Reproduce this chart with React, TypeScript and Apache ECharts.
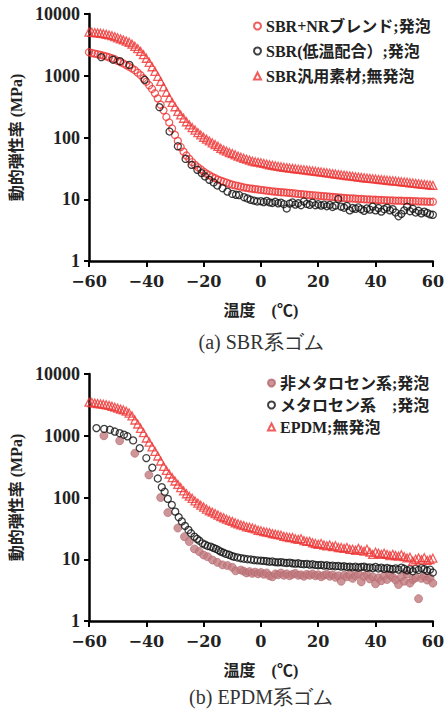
import React, { useEffect, useRef } from "react";
import * as echarts from "echarts";

// ---------- data ----------
const temps = [
  -60, -59, -58, -57, -56, -55, -54, -53, -52, -51,
  -50, -49, -48, -47, -46, -45, -44, -43, -42, -41,
  -40, -39, -38, -37, -36, -35, -34, -33, -32, -31,
  -30, -29, -28, -27, -26, -25, -24, -23, -22, -21,
  -20, -19, -18, -17, -16, -15, -14, -13, -12, -11,
  -10, -9, -8, -7, -6, -5, -4, -3, -2, -1,
  0, 1, 2, 3, 4, 5, 6, 7, 8, 9,
  10, 11, 12, 13, 14, 15, 16, 17, 18, 19,
  20, 21, 22, 23, 24, 25, 26, 27, 28, 29,
  30, 31, 32, 33, 34, 35, 36, 37, 38, 39,
  40, 41, 42, 43, 44, 45, 46, 47, 48, 49,
  50, 51, 52, 53, 54, 55, 56, 57, 58, 59, 60,
];

// (a) SBR+NRブレンド;発泡
const sbrNrFoam = [
  2400, 2330, 2280, 2230, 2180, 2120, 2060, 1990, 1920, 1850,
  1740, 1660, 1580, 1490, 1400, 1320, 1230, 1120, 1020, 910,
  800, 700, 610, 520, 430, 340, 275, 215, 175, 140,
  110, 88, 70, 59, 51, 45, 40, 36, 33, 30.5,
  28, 26, 24.5, 23, 22, 20.8, 20, 19.2, 18.5, 17.8,
  17.2, 16.8, 16.4, 16, 15.6, 15.3, 15, 14.8, 14.6, 14.4,
  14.2, 14, 13.8, 13.6, 13.4, 13.3, 13.1, 13, 12.9, 12.8,
  12.7, 12.5, 12.4, 12.2, 12.1, 12, 11.8, 11.7, 11.6, 11.5,
  11.4, 11.3, 11.2, 11.1, 11, 10.9, 10.8, 10.7, 10.6, 10.5,
  10.4, 10.35, 10.3, 10.2, 10.15, 10.1, 10, 9.95, 9.9, 9.85,
  9.8, 9.75, 9.7, 9.65, 9.6, 9.6, 9.55, 9.5, 9.5, 9.45,
  9.4, 9.4, 9.35, 9.3, 9.3, 9.25, 9.2, 9.2, 9.15, 9.1, 9.1,
];

// (a) SBR汎用素材;無発泡
const sbrSolid = [
  5100, 5050, 5000, 4950, 4880, 4800, 4700, 4580, 4450, 4300,
  4120, 3950, 3800, 3650, 3480, 3250, 3000, 2750, 2480, 2200,
  1920, 1650, 1400, 1180, 980, 810, 660, 540, 440, 370,
  315, 265, 232, 205, 180, 160, 145, 132, 120, 110,
  101, 94, 88, 82, 77, 72, 67, 63, 60, 57,
  55, 52.5, 50, 48, 46, 44.5, 43, 41.5, 40.5, 39.8,
  39, 38, 37, 36.2, 35.5, 34.8, 34.2, 33.6, 33, 32.5,
  32, 31.6, 31.2, 30.8, 30.4, 30, 29.6, 29.2, 28.8, 28.4,
  28, 27.6, 27.2, 26.8, 26.4, 26, 25.6, 25.2, 24.9, 24.6,
  24.2, 23.9, 23.6, 23.2, 22.9, 22.6, 22.3, 22, 21.8, 21.5,
  21.3, 21, 20.8, 20.6, 20.3, 20.1, 19.9, 19.7, 19.5, 19.2,
  19, 18.8, 18.5, 18.3, 18.1, 17.8, 17.6, 17.4, 17.2, 17, 16.8,
];

// (a) SBR(低温配合);発泡
const sbrLowTemps = [
  -55.7, -51.6, -49.2, -45.9, -40.6, -35.4, -31.9, -29, -26.3, -24.2,
  -22.2, -20.7, -19.5, -18, -16.5, -15.2, -13.4, -11.7, -10, -8.7,
  -7.6, -5.9, -4.7, -3.6, -2.4, -1.3,
  0, 1, 2, 3, 4, 5, 6, 7, 8, 9,
  10, 11, 12, 13, 14, 15, 16, 17, 18, 19,
  20, 21, 22, 23, 24, 25, 26, 27, 28, 29,
  30, 31, 32, 33, 34, 35, 36, 37, 38, 39,
  40, 41, 42, 43, 44, 45, 46, 47, 48, 49,
  50, 51, 52, 53, 54, 55, 56, 57, 58, 59, 60,
];
const sbrLowFoam = [
  2000, 1820, 1720, 1500, 860, 310, 125, 72, 45, 36,
  30, 26.5, 23.4, 20.6, 18.7, 16.7, 15.1, 13.3, 12.2, 11.8,
  11.7, 10.8, 10.3, 9.8, 9.5, 9.2,
  9.3, 9.0, 9.4, 8.9, 8.7, 9.1, 8.6, 8.8, 8.3, 7.1,
  8.5, 8.9, 8.2, 8.6, 8.0, 9.2, 8.4, 8.1, 8.8, 8.0,
  8.3, 7.9, 8.2, 7.7, 8.1, 7.5, 7.9, 10.1, 7.6, 7.3,
  7.8, 6.6, 7.2, 7.0, 7.4, 6.9, 6.5, 7.1, 6.8, 7.6,
  6.6, 7.2, 6.3, 6.9, 7.3, 6.6, 6.9, 6.1, 5.3, 5.8,
  6.6, 7.6, 6.4, 7.0, 6.1, 6.5, 5.9, 6.3, 6.0, 5.7, 5.6,
];

// (b) EPDM;無発泡
const epdmSolid = [
  3500, 3450, 3380, 3330, 3280, 3230, 3170, 3100, 3000, 2900,
  2800, 2700, 2620, 2500, 2330, 2100, 1800, 1550, 1320, 1120,
  920, 790, 660, 560, 470, 390, 320, 275, 240, 210,
  185, 163, 145, 128, 115, 105, 97, 88, 81, 75,
  70, 65, 61, 58, 55, 52, 49, 47, 44.5, 42.5,
  41, 39, 37.5, 36, 35, 33.5, 33, 32, 31, 29.5,
  29, 28, 27.5, 27, 26, 25.5, 25, 24.5, 23.5, 23,
  22.5, 22.5, 21.5, 21, 21.5, 20, 19.5, 19.5, 18.5, 18,
  17.5, 18, 17, 16.5, 17, 16, 16.5, 15.5, 15.5, 15,
  15.5, 14.5, 14.5, 14, 15, 14, 13.5, 14.5, 13, 12,
  13, 12.5, 12, 12.5, 12, 11.5, 12, 11.5, 11.2, 11.8,
  11, 10.5, 10.8, 9.3, 10, 10.5, 9.8, 10.6, 9.6, 9.9, 10.4,
];

// (b) メタロセン系;発泡
const metaTemps = [
  -57.4, -54.7, -52.7, -51, -49.3, -47.8, -46.6, -44.6, -42.3, -40,
  -37.9, -36, -34.6, -33.6, -32.5, -31.1, -29.9, -28.7, -27.6, -26.5,
  -25.3, -24.4, -23.2, -22.3, -21.5, -20.4, -19.5, -18.6, -17.5, -16.6,
  -15.7, -14.8, -14, -13.1, -12.2, -11.1, -10.2, -9.4, -8.2, -7,
  -5.9, -4.7, -3.5, -2.4, -1.2,
  0, 1, 2, 3, 4, 5, 6, 7, 8, 9,
  10, 11, 12, 13, 14, 15, 16, 17, 18, 19,
  20, 21, 22, 23, 24, 25, 26, 27, 28, 29,
  30, 31, 32, 33, 34, 35, 36, 37, 38, 39,
  40, 41, 42, 43, 44, 45, 46, 47, 48, 49,
  50, 51, 52, 53, 54, 55, 56, 57, 58, 59, 60,
];
const metaFoam = [
  1330, 1290, 1250, 1170, 1100, 1040, 980, 840, 630, 435,
  305, 203, 147, 124, 95, 76, 59, 48, 41, 34.7,
  29.8, 26.3, 23.2, 21.4, 20, 18.1, 17.2, 16.4, 16, 15.3,
  14.7, 14, 13.3, 12.8, 12.2, 11.8, 11.3, 11, 10.7, 10.4,
  10.2, 10, 9.9, 9.7, 9.6,
  9.5, 9.4, 9.3, 9.1, 9.2, 9.0, 8.9, 9.0, 8.8, 8.7,
  8.8, 8.6, 8.5, 8.6, 8.4, 8.3, 8.4, 8.2, 8.3, 8.1,
  8.0, 8.1, 7.9, 8.0, 7.8, 7.9, 7.7, 7.8, 7.6, 7.7,
  7.5, 7.6, 7.4, 7.6, 7.3, 7.5, 7.6, 7.3, 7.4, 7.2,
  7.5, 7.1, 7.3, 7.0, 7.2, 7.0, 6.9, 7.1, 6.8, 7.3,
  7.0, 6.6, 6.9, 6.4, 7.0, 6.7, 7.2, 6.9, 6.5, 6.8, 6.1,
];

// (b) 非メタロセン系;発泡
const nonMetaTemps = [
  -54.8, -49.3, -44, -39.1, -35, -32.5, -29, -26.7, -25, -23.2,
  -21.5, -20, -18.6, -16.9, -15.2, -13.4, -11.7, -10, -8.8, -7,
  -6, -5, -4, -3, -2, -1,
  0, 1, 2, 3, 4, 5, 6, 7, 8, 9,
  10, 11, 12, 13, 14, 15, 16, 17, 18, 19,
  20, 21, 22, 23, 24, 25, 26, 27, 28, 29,
  30, 31, 32, 33, 34, 35, 36, 37, 38, 39,
  40, 41, 42, 43, 44, 45, 46, 47, 48, 49,
  50, 51, 52, 53, 54, 55, 56, 57, 58, 59, 60,
];
const nonMetaFoam = [
  1000, 830, 520, 232, 100, 57, 32, 23.2, 19.3, 14.7,
  13.3, 11.7, 11, 9.7, 8.9, 8.1, 7.9, 7.4, 6.5, 6.7,
  6.4, 6.0, 6.3, 5.9, 6.2, 5.8,
  6.1, 5.7, 6.0, 5.4, 5.2, 5.8, 5.6, 6.0, 5.5, 5.8,
  5.4, 5.7, 5.9, 5.5, 5.6, 5.3, 5.7, 5.5, 5.8, 5.4,
  5.6, 5.2, 5.5, 5.7, 5.3, 5.6, 5.1, 5.4, 4.4, 5.5,
  5.2, 5.6, 4.9, 5.4, 5.8, 4.3, 5.3, 5.6, 4.8, 5.2,
  4.0, 5.0, 4.5, 5.4, 4.7, 5.6, 5.1, 4.6, 3.9, 5.2,
  4.4, 5.8, 4.1, 4.7, 5.0, 2.3, 4.9, 5.3, 4.6, 5.0, 4.1,
];

const yTicks = [1, 10, 100, 1000, 10000];

const seriesNames = {
  sbrNr: "SBR+NRブレンド;発泡",
  sbrLow: "SBR(低温配合）;発泡",
  sbrSolid: "SBR汎用素材;無発泡",
  nonMeta: "非メタロセン系;発泡",
  meta: "メタロセン系　;発泡",
  epdm: "EPDM;無発泡",
};

const captions = ["(a) SBR系ゴム", "(b) EPDM系ゴム"];
const xName = "温度　(℃)";
const yName = "動的弾性率 (MPa)";

// ---------- styles ----------
const RED = "#ee3535";
const BLACK = "#111111";
const ROSE = "#c27b80";
const TXT = "#222222";
const FONT = "'Times New Roman', 'Noto Sans CJK JP'";
const XNUMFONT = "DejaVu Serif";
const YNUMFONT = "Times New Roman";

function zip(xs: number[], ys: number[]) {
  return xs.map((x, i) => [x, ys[i]]);
}

export default function App() {
  const ref = useRef<HTMLDivElement>(null);

  useEffect(() => {
    if (!ref.current) return;
    const chart = echarts.init(ref.current, undefined, { renderer: "svg" });

    const grids = [
      { left: 89, top: 14, width: 346, height: 247 },
      { left: 89, top: 374, width: 346, height: 247 },
    ];

    const axisLineStyle = { color: "#000", width: 2.5 };

    const xAxes = grids.map((_, i) => ({
      type: "value",
      gridIndex: i,
      min: -60,
      max: 60,
      interval: 20,
      name: xName,
      nameLocation: "middle",
      nameGap: 41,
      nameTextStyle: { fontSize: 16, fontWeight: "bold", color: TXT, fontFamily: FONT },
      axisLine: { show: true, onZero: false, lineStyle: axisLineStyle },
      axisTick: { show: true, inside: false, length: 6, lineStyle: { color: "#000", width: 2 } },
      axisLabel: {
        margin: 12,
        fontSize: 16,
        fontWeight: "bold",
        color: TXT,
        fontFamily: XNUMFONT,
        formatter: (v: number) => String(v).replace("-", "\u2212"),
      },
      splitLine: { show: false },
    }));

    const yAxes = grids.map((_, i) => ({
      type: "log",
      logBase: 10,
      gridIndex: i,
      min: yTicks[0],
      max: yTicks[yTicks.length - 1],
      name: yName,
      nameLocation: "middle",
      nameGap: 60,
      nameRotate: 90,
      nameTextStyle: { fontSize: 16, fontWeight: "bold", color: TXT, fontFamily: FONT },
      axisLine: { show: true, onZero: false, lineStyle: axisLineStyle },
      axisTick: { show: true, inside: false, length: 5, lineStyle: { color: "#000", width: 2 } },
      axisLabel: {
        margin: 9,
        fontSize: 18,
        fontWeight: "bold",
        color: TXT,
        fontFamily: YNUMFONT,
        formatter: (v: number) => String(Math.round(v)),
      },
      minorTick: { show: false },
      splitLine: { show: false },
    }));

    const hollow = (color: string) => ({
      color: "rgba(255,255,255,0)",
      borderColor: color,
      borderWidth: 1.3,
    });

    const series = [
      {
        name: seriesNames.sbrNr,
        type: "scatter",
        xAxisIndex: 0,
        yAxisIndex: 0,
        symbol: "circle",
        symbolSize: 7,
        itemStyle: hollow(RED),
        data: zip(temps, sbrNrFoam),
      },
      {
        name: seriesNames.sbrLow,
        type: "scatter",
        xAxisIndex: 0,
        yAxisIndex: 0,
        symbol: "circle",
        symbolSize: 7,
        itemStyle: hollow(BLACK),
        data: zip(sbrLowTemps, sbrLowFoam),
      },
      {
        name: seriesNames.sbrSolid,
        type: "scatter",
        xAxisIndex: 0,
        yAxisIndex: 0,
        symbol: "triangle",
        symbolSize: 8,
        itemStyle: hollow(RED),
        data: zip(temps, sbrSolid),
      },
      {
        name: seriesNames.nonMeta,
        type: "scatter",
        xAxisIndex: 1,
        yAxisIndex: 1,
        symbol: "circle",
        symbolSize: 8,
        itemStyle: { color: ROSE, borderColor: "#b4686d", borderWidth: 0.8 },
        data: zip(nonMetaTemps, nonMetaFoam),
      },
      {
        name: seriesNames.meta,
        type: "scatter",
        xAxisIndex: 1,
        yAxisIndex: 1,
        symbol: "circle",
        symbolSize: 7,
        itemStyle: hollow(BLACK),
        data: zip(metaTemps, metaFoam),
      },
      {
        name: seriesNames.epdm,
        type: "scatter",
        xAxisIndex: 1,
        yAxisIndex: 1,
        symbol: "triangle",
        symbolSize: 8,
        itemStyle: hollow(RED),
        data: zip(temps, epdmSolid),
      },
    ];

    const legendText = { fontSize: 16, fontWeight: "bold", color: TXT, fontFamily: FONT };

    chart.setOption({
      animation: false,
      backgroundColor: "#ffffff",
      grid: grids,
      xAxis: xAxes,
      yAxis: yAxes,
      legend: [
        {
          orient: "vertical",
          left: 253,
          top: 18,
          itemWidth: 7,
          itemHeight: 7,
          itemGap: 9,
          padding: 0,
          data: [seriesNames.sbrNr, seriesNames.sbrLow, seriesNames.sbrSolid],
          textStyle: legendText,
        },
        {
          orient: "vertical",
          left: 267,
          top: 375,
          itemWidth: 7,
          itemHeight: 7,
          itemGap: 6,
          padding: 0,
          data: [seriesNames.nonMeta, seriesNames.meta, seriesNames.epdm],
          textStyle: legendText,
        },
      ],
      graphic: [
        {
          type: "text",
          x: 261,
          y: 342,
          style: {
            text: captions[0],
            align: "center",
            verticalAlign: "middle",
            fontSize: 20,
            fontFamily: "serif",
            fill: "#333",
          },
        },
        {
          type: "text",
          x: 261,
          y: 697,
          style: {
            text: captions[1],
            align: "center",
            verticalAlign: "middle",
            fontSize: 20,
            fontFamily: "serif",
            fill: "#333",
          },
        },
      ],
      series,
    });

    return () => chart.dispose();
  }, []);

  return (
    <div
      ref={ref}
      style={{ position: "absolute", left: 0, top: 0, width: 447, height: 713, background: "#fff" }}
    />
  );
}
